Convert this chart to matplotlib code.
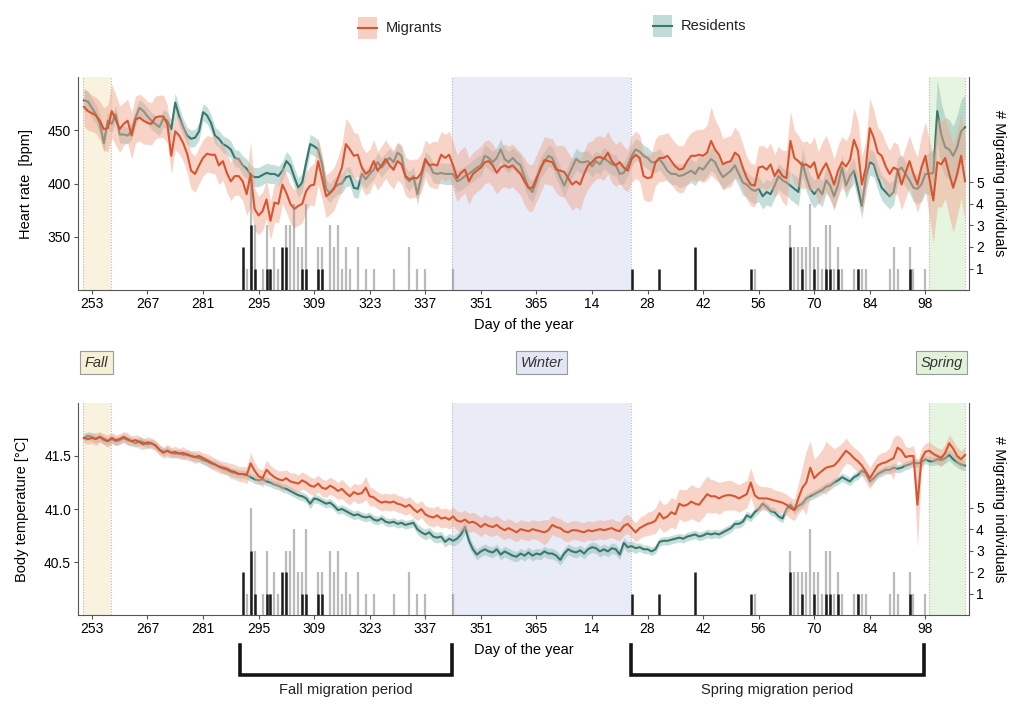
import matplotlib
matplotlib.use('Agg')
import matplotlib.pyplot as plt
import matplotlib.transforms as mtransforms
import numpy as np
from matplotlib.patches import Rectangle
from matplotlib.lines import Line2D

plt.rcParams['font.family'] = ['Liberation Sans', 'DejaVu Sans']

# daily values, day 251 of the first year onwards (days > 365 are in the next year)
first_day = 251

hr_mig = [472, 468, 466, 464, 459, 451, 452, 468, 460, 451,
          456, 459, 445, 460, 462, 459, 457, 456, 462, 463,
          463, 456, 426, 449, 445, 438, 428, 412, 409, 417,
          424, 428, 427, 427, 417, 421, 410, 402, 407, 407,
          402, 390, 409, 376, 370, 374, 385, 365, 382, 381,
          399, 391, 381, 376, 379, 381, 393, 398, 399, 421,
          405, 388, 391, 395, 405, 415, 437, 432, 426, 427,
          415, 409, 412, 421, 412, 417, 423, 417, 413, 421,
          418, 407, 404, 405, 405, 410, 423, 417, 418, 417,
          427, 424, 427, 417, 405, 410, 413, 402, 409, 412,
          415, 420, 421, 417, 410, 415, 417, 415, 417, 413,
          409, 402, 396, 396, 405, 413, 422, 421, 420, 413,
          412, 411, 405, 399, 402, 399, 409, 417, 420, 424,
          425, 423, 429, 421, 417, 420, 415, 412, 423, 427,
          424, 407, 405, 406, 420, 424, 424, 426, 421, 416,
          413, 414, 421, 426, 426, 427, 426, 429, 440, 432,
          427, 418, 420, 421, 429, 426, 415, 405, 399, 398,
          415, 416, 413, 418, 407, 413, 407, 405, 440, 424,
          421, 417, 418, 415, 420, 405, 413, 419, 410, 399,
          412, 420, 416, 422, 441, 431, 399, 415, 452, 443,
          429, 426, 416, 409, 415, 413, 399, 410, 421, 409,
          399, 415, 426, 405, 384, 420, 418, 424, 409, 396,
          409, 426, 402]

hr_mig_err = [18, 18, 17, 17, 18, 20, 22, 25, 24, 22,
              20, 20, 22, 22, 22, 22, 20, 20, 20, 20,
              20, 18, 17, 17, 17, 17, 18, 17, 17, 17,
              17, 17, 17, 18, 18, 18, 18, 18, 18, 18,
              18, 20, 30, 20, 18, 18, 18, 18, 18, 18,
              18, 18, 18, 18, 18, 18, 18, 18, 20, 22,
              20, 20, 20, 20, 20, 22, 24, 24, 22, 20,
              20, 20, 20, 20, 18, 18, 18, 18, 18, 18,
              18, 18, 18, 18, 18, 18, 18, 20, 22, 22,
              22, 22, 22, 22, 22, 22, 22, 22, 20, 20,
              20, 20, 20, 20, 20, 20, 20, 20, 20, 20,
              20, 22, 22, 22, 22, 22, 22, 22, 22, 22,
              24, 24, 24, 24, 24, 24, 22, 22, 20, 20,
              20, 20, 20, 20, 20, 20, 20, 20, 22, 22,
              22, 22, 22, 22, 22, 22, 22, 22, 22, 22,
              22, 22, 22, 22, 24, 24, 25, 26, 32, 28,
              26, 24, 24, 24, 24, 22, 22, 20, 20, 20,
              20, 20, 20, 20, 20, 22, 24, 26, 28, 26,
              24, 22, 22, 22, 24, 25, 26, 26, 25, 24,
              24, 24, 24, 26, 30, 28, 26, 26, 28, 26,
              24, 22, 22, 22, 24, 24, 24, 24, 24, 24,
              26, 30, 32, 36, 40, 42, 40, 38, 40, 42,
              40, 40, 38]

hr_res = [478, 477, 471, 465, 456, 438, 459, 456, 465, 446,
          446, 445, 449, 462, 471, 468, 463, 459, 456, 453,
          461, 459, 451, 476, 463, 453, 445, 442, 443, 449,
          467, 464, 457, 445, 442, 437, 435, 432, 424, 423,
          417, 414, 408, 406, 406, 408, 410, 409, 409, 407,
          412, 421, 417, 406, 396, 401, 420, 437, 435, 432,
          418, 395, 391, 396, 399, 400, 406, 407, 396, 395,
          409, 404, 409, 413, 420, 415, 420, 424, 420, 429,
          426, 406, 402, 407, 390, 406, 421, 418, 410, 409,
          410, 409, 409, 409, 402, 404, 407, 409, 412, 415,
          417, 426, 424, 420, 424, 432, 423, 420, 424, 420,
          417, 406, 396, 392, 402, 415, 420, 426, 424, 415,
          406, 398, 407, 415, 423, 420, 420, 421, 416, 421,
          418, 424, 421, 418, 417, 409, 410, 417, 426, 432,
          430, 426, 424, 420, 420, 423, 418, 412, 409, 409,
          407, 408, 410, 412, 409, 415, 413, 418, 423, 420,
          412, 406, 409, 412, 417, 409, 401, 399, 395, 393,
          395, 388, 392, 390, 398, 407, 403, 401, 398, 395,
          392, 420, 406, 395, 390, 395, 390, 403, 398, 388,
          399, 415, 398, 407, 412, 396, 379, 406, 420, 418,
          406, 396, 392, 388, 392, 412, 415, 409, 403, 396,
          395, 399, 409, 409, 410, 468, 446, 434, 432, 426,
          434, 449, 453]

hr_res_err = [10, 10, 9, 9, 9, 9, 8, 8, 8, 8,
              8, 8, 8, 8, 8, 8, 8, 8, 8, 8,
              8, 8, 9, 9, 9, 8, 8, 8, 8, 8,
              8, 8, 8, 8, 8, 8, 8, 8, 8, 8,
              9, 9, 9, 9, 9, 9, 9, 9, 9, 9,
              9, 9, 9, 9, 9, 9, 9, 9, 9, 9,
              9, 9, 9, 9, 9, 9, 9, 9, 9, 9,
              9, 9, 9, 9, 9, 9, 9, 9, 9, 9,
              9, 9, 9, 9, 10, 9, 9, 9, 9, 9,
              10, 10, 10, 10, 10, 10, 10, 10, 10, 10,
              10, 10, 10, 10, 10, 10, 10, 10, 10, 10,
              10, 10, 10, 10, 10, 10, 10, 10, 10, 10,
              10, 10, 10, 10, 10, 10, 10, 10, 10, 10,
              10, 10, 10, 10, 10, 10, 10, 10, 10, 10,
              10, 10, 10, 10, 10, 10, 10, 10, 10, 10,
              11, 11, 11, 11, 11, 11, 11, 11, 11, 11,
              11, 11, 11, 11, 12, 12, 12, 12, 12, 12,
              12, 12, 12, 12, 12, 12, 12, 12, 13, 13,
              13, 13, 13, 13, 13, 13, 12, 12, 12, 12,
              12, 12, 12, 12, 12, 12, 12, 12, 12, 12,
              12, 12, 12, 12, 12, 12, 12, 12, 12, 13,
              14, 16, 18, 20, 22, 30, 30, 28, 28, 28,
              30, 30, 30]

tb_mig = [41.67, 41.66, 41.67, 41.66, 41.68, 41.66, 41.64, 41.67, 41.65, 41.66,
          41.68, 41.66, 41.64, 41.65, 41.63, 41.61, 41.63, 41.62, 41.60, 41.56,
          41.53, 41.55, 41.53, 41.54, 41.52, 41.53, 41.51, 41.50, 41.49, 41.50,
          41.48, 41.46, 41.44, 41.42, 41.40, 41.39, 41.38, 41.36, 41.35, 41.33,
          41.33, 41.32, 41.43, 41.36, 41.31, 41.29, 41.37, 41.33, 41.30, 41.28,
          41.27, 41.29, 41.26, 41.25, 41.24, 41.27, 41.25, 41.22, 41.21, 41.24,
          41.20, 41.19, 41.22, 41.20, 41.17, 41.19, 41.15, 41.12, 41.16, 41.14,
          41.15, 41.20, 41.12, 41.11, 41.08, 41.06, 41.07, 41.06, 41.07, 41.05,
          41.04, 41.02, 41.04, 41.00, 40.97, 41.00, 40.95, 40.93, 40.92, 40.94,
          40.91, 40.92, 40.90, 40.93, 40.89, 40.88, 40.90, 40.87, 40.88, 40.86,
          40.83, 40.86, 40.84, 40.83, 40.85, 40.82, 40.80, 40.82, 40.80, 40.78,
          40.81, 40.80, 40.79, 40.81, 40.80, 40.79, 40.78, 40.80, 40.85, 40.83,
          40.82, 40.79, 40.78, 40.80, 40.80, 40.79, 40.78, 40.80, 40.79, 40.80,
          40.81, 40.80, 40.81, 40.82, 40.80, 40.79, 40.84, 40.86, 40.82, 40.78,
          40.82, 40.84, 40.86, 40.87, 40.89, 40.96, 40.91, 40.93, 40.97, 40.95,
          41.05, 41.03, 41.04, 41.07, 41.05, 41.04, 41.09, 41.14, 41.12, 41.12,
          41.10, 41.12, 41.13, 41.13, 41.12, 41.10, 41.12, 41.14, 41.25, 41.13,
          41.10, 41.10, 41.10, 41.09, 41.08, 41.07, 41.06, 41.04, 41.01, 40.99,
          41.10, 41.20, 41.25, 41.39, 41.29, 41.33, 41.36, 41.39, 41.40, 41.41,
          41.45, 41.50, 41.55, 41.52, 41.48, 41.45, 41.41, 41.35, 41.29, 41.35,
          41.41, 41.43, 41.44, 41.46, 41.48, 41.58, 41.55, 41.49, 41.50, 41.50,
          41.04, 41.47, 41.54, 41.55, 41.52, 41.50, 41.48, 41.53, 41.62, 41.57,
          41.50, 41.47, 41.51]

tb_mig_err = [0.05, 0.05, 0.05, 0.06, 0.05, 0.05, 0.06, 0.05, 0.05, 0.05,
              0.05, 0.06, 0.05, 0.05, 0.06, 0.05, 0.05, 0.05, 0.05, 0.05,
              0.05, 0.06, 0.05, 0.05, 0.05, 0.06, 0.05, 0.05, 0.06, 0.05,
              0.05, 0.06, 0.06, 0.06, 0.06, 0.06, 0.06, 0.07, 0.07, 0.07,
              0.07, 0.08, 0.10, 0.08, 0.07, 0.08, 0.09, 0.08, 0.08, 0.08,
              0.09, 0.08, 0.08, 0.09, 0.08, 0.08, 0.08, 0.08, 0.08, 0.08,
              0.08, 0.08, 0.08, 0.08, 0.08, 0.09, 0.09, 0.08, 0.08, 0.09,
              0.09, 0.11, 0.09, 0.08, 0.08, 0.08, 0.08, 0.08, 0.08, 0.08,
              0.08, 0.08, 0.08, 0.08, 0.08, 0.08, 0.08, 0.09, 0.09, 0.09,
              0.09, 0.09, 0.09, 0.09, 0.09, 0.09, 0.09, 0.09, 0.09, 0.09,
              0.09, 0.09, 0.09, 0.09, 0.09, 0.09, 0.09, 0.09, 0.09, 0.09,
              0.09, 0.09, 0.09, 0.09, 0.09, 0.10, 0.12, 0.10, 0.09, 0.09,
              0.09, 0.09, 0.09, 0.09, 0.09, 0.09, 0.09, 0.09, 0.09, 0.09,
              0.09, 0.09, 0.09, 0.09, 0.09, 0.09, 0.09, 0.09, 0.09, 0.09,
              0.10, 0.10, 0.11, 0.11, 0.12, 0.13, 0.13, 0.13, 0.14, 0.14,
              0.14, 0.15, 0.15, 0.16, 0.16, 0.16, 0.17, 0.17, 0.16, 0.15,
              0.15, 0.14, 0.14, 0.14, 0.13, 0.13, 0.13, 0.13, 0.14, 0.13,
              0.12, 0.11, 0.11, 0.11, 0.10, 0.10, 0.10, 0.10, 0.10, 0.10,
              0.14, 0.20, 0.30, 0.25, 0.18, 0.18, 0.20, 0.25, 0.20, 0.16,
              0.14, 0.12, 0.12, 0.10, 0.10, 0.10, 0.10, 0.10, 0.10, 0.10,
              0.10, 0.10, 0.10, 0.12, 0.20, 0.12, 0.12, 0.10, 0.08, 0.10,
              0.40, 0.10, 0.08, 0.08, 0.08, 0.08, 0.08, 0.08, 0.08, 0.08,
              0.08, 0.08, 0.08]

tb_res = [41.67, 41.69, 41.68, 41.66, 41.68, 41.65, 41.64, 41.66, 41.64, 41.65,
          41.67, 41.65, 41.64, 41.62, 41.64, 41.63, 41.61, 41.62, 41.60, 41.56,
          41.54, 41.55, 41.53, 41.52, 41.53, 41.51, 41.52, 41.50, 41.49, 41.48,
          41.46, 41.45, 41.43, 41.42, 41.40, 41.38, 41.37, 41.35, 41.34, 41.33,
          41.33, 41.32, 41.30, 41.28, 41.27, 41.28, 41.26, 41.25, 41.23, 41.22,
          41.20, 41.19, 41.17, 41.15, 41.13, 41.12, 41.10, 41.05, 41.10, 41.09,
          41.07, 41.05, 41.06, 41.03, 40.99, 41.00, 40.98, 40.96, 40.94, 40.95,
          40.93, 40.92, 40.93, 40.90, 40.89, 40.91, 40.88, 40.87, 40.88, 40.86,
          40.87, 40.85, 40.86, 40.87, 40.81, 40.78, 40.76, 40.78, 40.74, 40.73,
          40.74, 40.69, 40.72, 40.70, 40.72, 40.76, 40.83, 40.70, 40.62, 40.57,
          40.60, 40.62, 40.60, 40.59, 40.62, 40.57, 40.60, 40.58, 40.56, 40.55,
          40.58, 40.56, 40.59, 40.56, 40.58, 40.57, 40.60, 40.58, 40.58, 40.56,
          40.52, 40.58, 40.62, 40.60, 40.59, 40.61, 40.58, 40.62, 40.64, 40.63,
          40.60, 40.62, 40.60, 40.63, 40.62, 40.57, 40.68, 40.64, 40.65, 40.63,
          40.64, 40.62, 40.62, 40.60, 40.62, 40.69, 40.70, 40.70, 40.71, 40.72,
          40.73, 40.72, 40.74, 40.75, 40.76, 40.74, 40.75, 40.77, 40.76, 40.77,
          40.76, 40.78, 40.80, 40.82, 40.86, 40.86, 40.88, 40.94, 40.92, 40.97,
          41.00, 41.05, 41.02, 40.98, 40.97, 40.93, 40.91, 41.00, 41.04, 40.99,
          41.03, 41.05, 41.10, 41.12, 41.14, 41.16, 41.18, 41.21, 41.22, 41.25,
          41.27, 41.30, 41.28, 41.26, 41.30, 41.32, 41.36, 41.34, 41.26, 41.29,
          41.33, 41.35, 41.37, 41.37, 41.39, 41.38, 41.39, 41.41, 41.42, 41.44,
          41.43, 41.44, 41.47, 41.45, 41.45, 41.47, 41.46, 41.48, 41.51, 41.47,
          41.44, 41.42, 41.41]

tb_res_err = [0.04, 0.04, 0.04, 0.04, 0.04, 0.04, 0.04, 0.04, 0.04, 0.04,
              0.04, 0.04, 0.04, 0.04, 0.04, 0.04, 0.04, 0.04, 0.04, 0.04,
              0.04, 0.04, 0.04, 0.04, 0.04, 0.04, 0.04, 0.04, 0.04, 0.04,
              0.04, 0.04, 0.04, 0.04, 0.04, 0.04, 0.04, 0.04, 0.04, 0.04,
              0.04, 0.04, 0.04, 0.04, 0.04, 0.04, 0.04, 0.04, 0.04, 0.04,
              0.04, 0.04, 0.04, 0.04, 0.04, 0.04, 0.04, 0.05, 0.04, 0.04,
              0.04, 0.04, 0.04, 0.04, 0.04, 0.04, 0.04, 0.04, 0.04, 0.04,
              0.04, 0.04, 0.04, 0.04, 0.04, 0.04, 0.04, 0.04, 0.04, 0.04,
              0.04, 0.04, 0.04, 0.04, 0.05, 0.05, 0.05, 0.05, 0.05, 0.05,
              0.05, 0.05, 0.05, 0.05, 0.05, 0.06, 0.06, 0.06, 0.05, 0.05,
              0.05, 0.05, 0.05, 0.05, 0.05, 0.05, 0.05, 0.05, 0.05, 0.05,
              0.05, 0.05, 0.05, 0.05, 0.05, 0.05, 0.05, 0.05, 0.05, 0.05,
              0.05, 0.05, 0.05, 0.05, 0.05, 0.05, 0.05, 0.05, 0.05, 0.05,
              0.05, 0.05, 0.05, 0.05, 0.05, 0.05, 0.05, 0.05, 0.05, 0.05,
              0.04, 0.04, 0.04, 0.04, 0.04, 0.04, 0.04, 0.04, 0.04, 0.04,
              0.04, 0.04, 0.04, 0.04, 0.04, 0.04, 0.04, 0.04, 0.04, 0.04,
              0.04, 0.04, 0.04, 0.04, 0.04, 0.04, 0.04, 0.04, 0.04, 0.04,
              0.04, 0.04, 0.04, 0.04, 0.04, 0.04, 0.04, 0.04, 0.04, 0.04,
              0.04, 0.04, 0.04, 0.04, 0.04, 0.04, 0.04, 0.04, 0.04, 0.04,
              0.04, 0.04, 0.04, 0.04, 0.04, 0.04, 0.04, 0.04, 0.04, 0.04,
              0.04, 0.04, 0.04, 0.04, 0.04, 0.04, 0.04, 0.04, 0.04, 0.04,
              0.04, 0.04, 0.04, 0.04, 0.04, 0.05, 0.05, 0.05, 0.05, 0.05,
              0.05, 0.05, 0.05]

# migration events (same in both panels): all individuals (grey) and a subset (black)
grey_days = [292, 293, 294, 296, 297, 298, 299, 300, 302, 303, 304, 305, 306, 307,
             310, 311, 313, 314, 315, 316, 317, 318, 320, 322, 324, 329, 333, 335,
             337, 344, 420, 429, 430, 431, 432, 433, 434, 435, 436, 437, 438, 439,
             440, 441, 442, 445, 446, 447, 448, 454, 455, 456, 459, 460, 463]
grey_counts = [1, 5, 3, 1, 3, 1, 2, 1, 3, 3, 4, 2, 2, 4,
               2, 2, 3, 2, 3, 1, 2, 1, 2, 1, 1, 1, 2, 1,
               1, 1, 1, 3, 2, 2, 2, 2, 4, 2, 2, 1, 3, 3,
               1, 2, 1, 1, 1, 1, 1, 1, 2, 1, 2, 1, 1]
dark_days = [291, 293, 294, 297, 298, 301, 302, 306, 307, 310, 311,
             389, 396, 405, 419, 429, 432, 435, 438, 439, 441, 446, 459]
dark_counts = [2, 3, 1, 1, 1, 2, 2, 1, 1, 1, 1,
               1, 1, 2, 1, 2, 1, 1, 1, 1, 1, 1, 1]

tick_days = [253, 267, 281, 295, 309, 323, 337, 351, 365, 379, 393, 407, 421, 435, 449, 463]
tick_labels = ['253', '267', '281', '295', '309', '323', '337', '351', '365',
               '14', '28', '42', '56', '70', '84', '98']

season_names = ['Fall', 'Winter', 'Spring']
season_start = [250.7, 343.8, 463.9]
season_end = [257.8, 388.8, 473.0]
season_colors = ['#f8f2de', '#e9ebf6', '#e6f5df']
season_box_colors = ['#f6f0d6', '#e3e6f4', '#e2f2da']

period_names = ['Fall migration period', 'Spring migration period']
period_start = [290.4, 388.8]
period_end = [343.8, 462.6]

red = '#d8562f'
red_band = '#f1a892'
teal = '#3a776e'
teal_band = '#8fbfb6'

days = np.arange(first_day, first_day + len(hr_mig))


def draw_panel(ax, mig, mig_err, res, res_err, ylim, yticks, yticklabels, ylabel):
	mig = np.array(mig)
	res = np.array(res)
	mig_err = np.array(mig_err)
	res_err = np.array(res_err)

	# season shading with dotted borders
	for s, e, c in zip(season_start, season_end, season_colors):
		ax.axvspan(s, e, color=c, lw=0, zorder=0)
		ax.axvline(s, color='#b8b8b8', ls=(0, (1, 1.5)), lw=0.8, zorder=0.5)
		ax.axvline(e, color='#b8b8b8', ls=(0, (1, 1.5)), lw=0.8, zorder=0.5)

	ax.fill_between(days, res - res_err, res + res_err, color=teal_band, alpha=0.5, lw=0, zorder=2)
	ax.plot(days, res, color=teal, lw=1.5, zorder=3)
	ax.fill_between(days, mig - mig_err, mig + mig_err, color=red_band, alpha=0.5, lw=0, zorder=4)
	ax.plot(days, mig, color=red, lw=1.5, zorder=5)

	ax.set_xlim(249.5, 474)
	ax.set_ylim(*ylim)
	ax.set_yticks(yticks)
	ax.set_yticklabels(yticklabels)
	ax.set_xticks(tick_days)
	ax.set_xticklabels(tick_labels)
	ax.set_ylabel(ylabel, fontsize=10.5, labelpad=11)
	ax.set_xlabel('Day of the year', fontsize=10.5, labelpad=5)
	for side in ['top', 'right']:
		ax.spines[side].set_visible(False)
	for side in ['left', 'bottom']:
		ax.spines[side].set_color('#555555')
		ax.spines[side].set_linewidth(0.8)
	ax.tick_params(axis='both', labelsize=10, length=3, width=0.8, color='#555555', pad=2)

	# migrating individuals on a second axis
	ax2 = ax.twinx()
	ax2.vlines(grey_days, 0, grey_counts, color='#8c8c8c', lw=1.6, alpha=0.6, zorder=1)
	ax2.vlines(dark_days, 0, dark_counts, color='#1c1c1c', lw=1.8, zorder=2)
	ax2.set_ylim(0, 9.9)
	ax2.set_yticks([1, 2, 3, 4, 5])
	ax2.set_ylabel('# Migrating individuals', rotation=270, fontsize=10.5, labelpad=16)
	for side in ['top', 'left', 'bottom']:
		ax2.spines[side].set_visible(False)
	ax2.spines['right'].set_color('#555555')
	ax2.spines['right'].set_linewidth(0.8)
	ax2.tick_params(axis='y', labelsize=10, length=3, width=0.8, color='#555555', pad=2)
	return ax2


fig = plt.figure(figsize=(10.25, 7.11), dpi=100)
ax_top = fig.add_axes([0.0761, 0.5921, 0.8693, 0.2996])
ax_bot = fig.add_axes([0.0761, 0.1350, 0.8693, 0.2982])

draw_panel(ax_top, hr_mig, hr_mig_err, hr_res, hr_res_err, (300, 500),
           [350, 400, 450], ['350', '400', '450'], 'Heart rate  [bpm]')
draw_panel(ax_bot, tb_mig, tb_mig_err, tb_res, tb_res_err, (40.0, 42.0),
           [40.5, 41.0, 41.5], ['40.5', '41.0', '41.5'], 'Body temperature [°C]')

# season labels above the lower panel
trans = mtransforms.blended_transform_factory(ax_bot.transData, ax_bot.transAxes)
label_x = [season_start[0] + 0.5, (season_start[1] + season_end[1]) / 2, season_end[2] - 0.5]
label_ha = ['left', 'center', 'right']
for name, x, ha, c in zip(season_names, label_x, label_ha, season_box_colors):
	ax_bot.text(x, 1.19, name, transform=trans, ha=ha, va='center', fontsize=10.5,
	            style='italic', color='#333333',
	            bbox=dict(boxstyle='square,pad=0.3', fc=c, ec='#9a9a9a', lw=0.8))

# migration period brackets below the lower panel
for name, s, e in zip(period_names, period_start, period_end):
	ax_bot.plot([s, s, e, e], [-0.142, -0.283, -0.283, -0.142], transform=trans,
	            color='#151515', lw=2.6, clip_on=False, solid_joinstyle='miter')
	ax_bot.text((s + e) / 2, -0.355, name, transform=trans, ha='center', va='center',
	            fontsize=10.5, color='#222222')

# legend at the top
for label, x0, yc, band_c, line_c in [('Migrants', 0.3495, 0.961, red_band, red),
                                      ('Residents', 0.6375, 0.963, teal_band, teal)]:
	fig.add_artist(Rectangle((x0, yc - 0.0155), 0.0185, 0.031, transform=fig.transFigure,
	                         fc=band_c, ec='none', alpha=0.55))
	fig.add_artist(Line2D([x0, x0 + 0.0185], [yc, yc], transform=fig.transFigure,
	                      color=line_c, lw=1.5))
	fig.text(x0 + 0.0265, yc, label, ha='left', va='center', fontsize=10.5, color='#222222')

fig.savefig('out.png', dpi=100)
